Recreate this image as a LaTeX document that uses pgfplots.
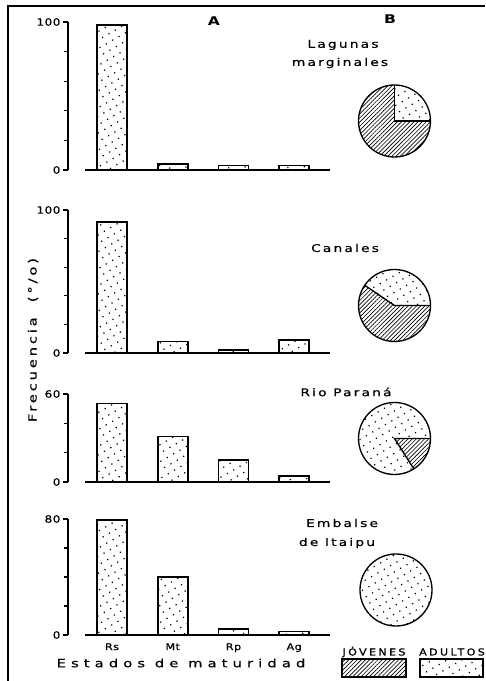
\documentclass[border=0pt]{standalone}
\usepackage{fontspec}
\setmainfont{DejaVu Sans}
\newfontfamily\ftick[FakeStretch=1.2,LetterSpace=5,FakeBold=0.6]{DejaVu Sans}
\newfontfamily\ftitle[FakeStretch=1.3,LetterSpace=20,FakeBold=0.6]{DejaVu Sans}
\newfontfamily\fwide[FakeStretch=1.3,LetterSpace=45,FakeBold=0.6]{DejaVu Sans}
\newfontfamily\fylab[FakeStretch=1.3,LetterSpace=25,FakeBold=0.6]{DejaVu Sans}
\newfontfamily\fleg[FakeStretch=1.15,LetterSpace=25,FakeBold=1]{DejaVu Sans}
\newfontfamily\fhead[FakeStretch=1.3]{DejaVu Sans Bold}
\usepackage{pgfplots}
\pgfplotsset{compat=1.18}
\usetikzlibrary{patterns.meta}

\tikzset{
  dotpat/.style={pattern={Dots[distance=5.5pt,radius=0.65pt,angle=30]}},
  hatchpat/.style={pattern={Lines[angle=45,distance=2.2pt,line width=0.5pt]}},
}

\pgfplotsset{
  panel/.style={
    scale only axis,
    anchor=south west,
    width=196.5pt,
    xmin=-0.725, xmax=3.59,
    ymin=0,
    clip=false,
    axis y line=left,
    axis x line=bottom,
    axis line style={-, line width=1pt},
    x axis line style={draw=none},
    xtick={0,1,2,3},
    xticklabels={},
    xtick style={draw=none},
    tick align=outside,
    major tick length=4pt,
    minor tick length=3pt,
    ytick style={line width=1pt, black},
    minor tick style={line width=1pt, black},
    /pgf/number format/assume math mode=true,
    yticklabel style={font=\ftick\fontsize{7.5}{8}\selectfont, inner sep=1.5pt},
    xticklabel style={font=\ftick\fontsize{7}{7.5}\selectfont, inner sep=2pt},
  },
  barstyle/.style={ybar, bar width=22.5pt, draw=black, line width=1.2pt, dotpat},
}

\newcommand\pie[3]{% x y (px), adults percent
  \ifdim #3pt<100pt
    \path[hatchpat] (#1,#2) -- ++(#3*3.6:36) arc[start angle=#3*3.6, end angle=360, radius=36] -- cycle;
    \path[dotpat] (#1,#2) -- ++(0:36) arc[start angle=0, end angle=#3*3.6, radius=36] -- cycle;
    \draw[line width=1pt] (#1,#2) ++(0:36) -- (#1,#2) -- ++(#3*3.6:36);
  \else
    \path[dotpat] (#1,#2) circle[radius=36];
  \fi
  \draw[line width=1pt] (#1,#2) circle[radius=36];
}

\begin{document}
\begin{tikzpicture}
% Panel 1: Lagunas marginales
\begin{axis}[panel, at={(51pt,383.25pt)}, height=111pt, ymax=100,
  ytick={0,100}, minor ytick={20,40,60,80}]
  \addplot[barstyle] coordinates {(0,98) (1,4) (2,3) (3,3)};
  \draw[line width=1pt] (axis cs:-0.445,0) -- (axis cs:3.59,0);
\end{axis}
% Panel 2: Canales
\begin{axis}[panel, at={(51pt,246pt)}, height=107.25pt, ymax=100,
  ytick={0,100}, minor ytick={20,40,60,80}]
  \addplot[barstyle] coordinates {(0,91.5) (1,8) (2,2) (3,9)};
  \draw[line width=1pt] (axis cs:-0.445,0) -- (axis cs:3.59,0);
\end{axis}
% Panel 3: Rio Parana
\begin{axis}[panel, at={(51pt,149.25pt)}, height=66pt, ymax=60,
  ytick={0,60}, minor ytick={20,40}]
  \addplot[barstyle] coordinates {(0,53.5) (1,31) (2,15) (3,4)};
  \draw[line width=1pt] (axis cs:-0.445,0) -- (axis cs:3.59,0);
\end{axis}
% Panel 4: Embalse de Itaipu
\begin{axis}[panel, at={(51pt,34.5pt)}, height=87pt, ymax=80,
  ytick={0,80}, minor ytick={20,40,60},
  xticklabels={Rs,Mt,Rp,Ag}]
  \addplot[barstyle] coordinates {(0,79.5) (1,40) (2,4) (3,2.5)};
  \draw[line width=1pt] (axis cs:-0.445,0) -- (axis cs:3.59,0);
\end{axis}

\begin{scope}[x=0.75pt,y=0.75pt]
  \useasboundingbox (0,0) rectangle (485,681);
  % frame
  \draw[line width=1pt] (8,0) -- (8,675) -- (485,675);
  % headers
  \node[font=\fhead\fontsize{9}{9}\selectfont] at (214,660) {A};
  \node[font=\fhead\fontsize{9}{9}\selectfont] at (390,662) {B};
  % titles
  \node[font=\ftitle\fontsize{8}{9}\selectfont] at (343,636) {Lagunas};
  \node[font=\ftitle\fontsize{8}{9}\selectfont] at (340,618) {marginales};
  \node[font=\ftitle\fontsize{8}{9}\selectfont] at (345,433) {Canales};
  \node[font=\ftitle\fontsize{8}{9}\selectfont] at (346,289) {Rio Paraná};
  \node[font=\ftitle\fontsize{8}{9}\selectfont] at (342,158) {Embalse};
  \node[font=\ftitle\fontsize{8}{9}\selectfont] at (337,138) {de Itaipu};
  % pies
  \pie{394.5}{560}{25}
  \pie{394.5}{375.5}{40.5}
  \pie{394.5}{242.5}{84}
  \pie{396}{91}{100}
  % axis labels
  \node[font=\fylab\fontsize{8.5}{9}\selectfont, rotate=90] at (33,341) {Frecuencia\ \ (°/o)};
  \node[font=\fwide\fontsize{8.5}{9}\selectfont] at (181,18) {Estados\ de\ maturidad};
  % legend
  \node[font=\fleg\fontsize{7.2}{8}\selectfont] at (374,29) {JÓVENES};
  \node[font=\fleg\fontsize{7.2}{8}\selectfont] at (452,29) {ADULTOS};
  \draw[line width=0.9pt, hatchpat] (342,4) rectangle (406,22);
  \draw[line width=0.9pt, dotpat] (420,4) rectangle (483,22);
\end{scope}
\end{tikzpicture}
\end{document}
